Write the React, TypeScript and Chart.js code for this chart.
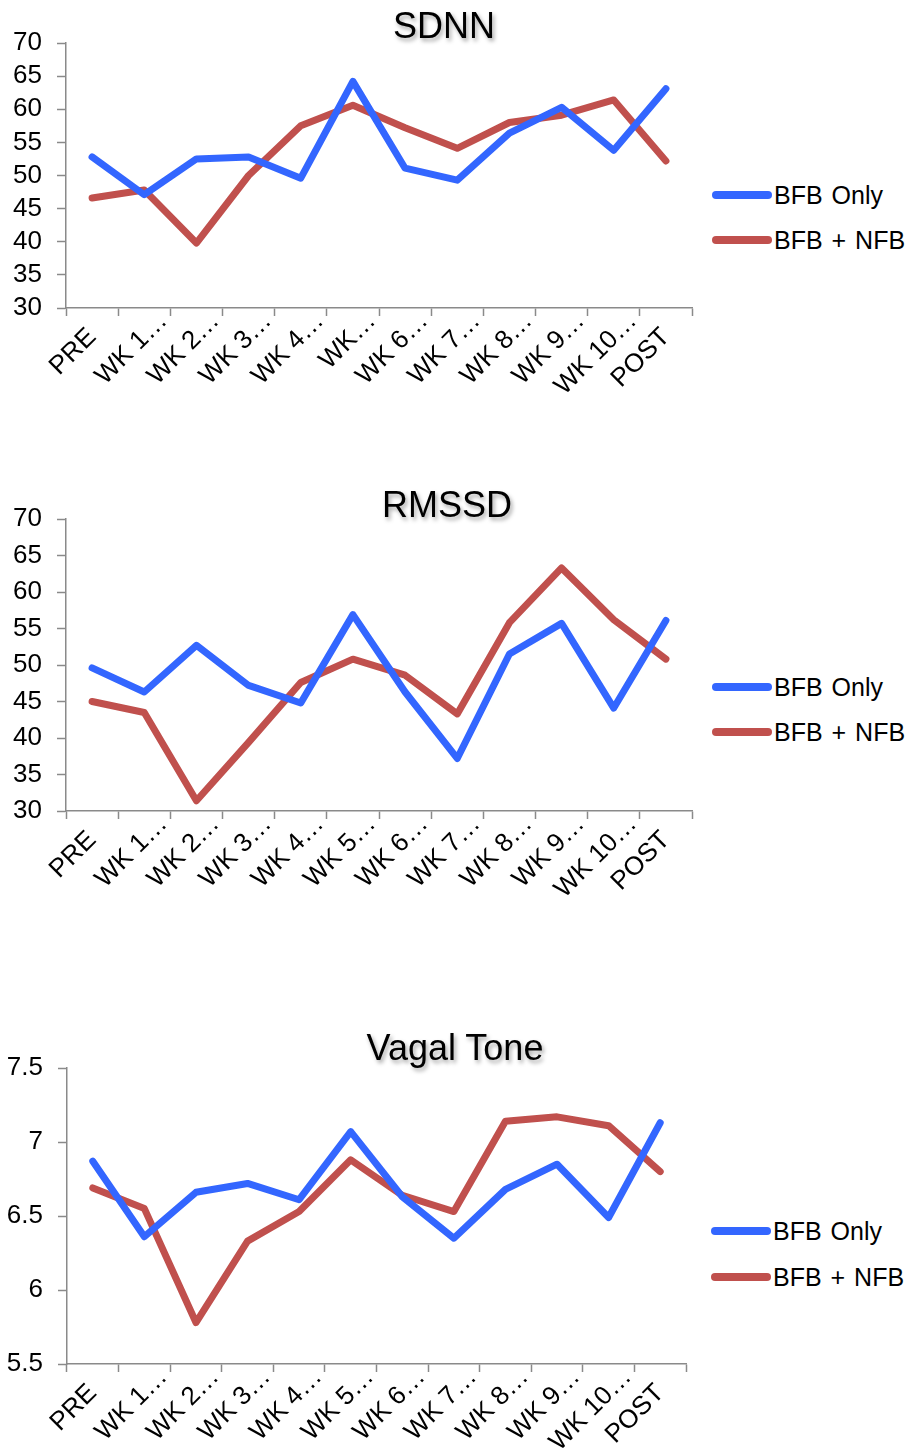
import React, { useEffect, useRef } from "react";
import { Chart, registerables } from "chart.js";

Chart.register(...registerables);

const FONT = "'Liberation Sans', Arial, sans-serif";
const BLUE = "#3366FF";
const RED = "#C0504D";
const AXIS = "#8a8a8a";
const X_FONT_SIZE = 26;

const seriesNames = ["BFB Only", "BFB + NFB"];

const sdnnLabels = ["PRE", "WK 1…", "WK 2…", "WK 3…", "WK 4…", "WK…", "WK 6…", "WK 7…", "WK 8…", "WK 9…", "WK 10…", "POST"];
const sdnnBfbOnly = [52.8, 47.1, 52.5, 52.8, 49.6, 64.2, 51.1, 49.3, 56.4, 60.3, 53.8, 63.1];
const sdnnBfbNfb = [46.6, 47.8, 39.8, 50.0, 57.5, 60.6, 57.2, 54.1, 58.0, 59.1, 61.4, 52.2];
const sdnnTicks = { min: 30, max: 70, step: 5 };

const rmssdLabels = ["PRE", "WK 1…", "WK 2…", "WK 3…", "WK 4…", "WK 5…", "WK 6…", "WK 7…", "WK 8…", "WK 9…", "WK 10…", "POST"];
const rmssdBfbOnly = [49.6, 46.3, 52.7, 47.2, 44.8, 56.9, 46.3, 37.2, 51.5, 55.7, 44.1, 56.1];
const rmssdBfbNfb = [45.0, 43.5, 31.4, 39.4, 47.6, 50.8, 48.6, 43.3, 55.8, 63.3, 56.2, 50.8];
const rmssdTicks = { min: 30, max: 70, step: 5 };

const vagalLabels = ["PRE", "WK 1…", "WK 2…", "WK 3…", "WK 4…", "WK 5…", "WK 6…", "WK 7…", "WK 8…", "WK 9…", "WK 10…", "POST"];
const vagalBfbOnly = [6.87, 6.36, 6.66, 6.72, 6.61, 7.07, 6.63, 6.35, 6.68, 6.85, 6.49, 7.13];
const vagalBfbNfb = [6.69, 6.55, 5.78, 6.33, 6.53, 6.88, 6.64, 6.53, 7.14, 7.17, 7.11, 6.80];
const vagalTicks = { min: 5.5, max: 7.5, step: 0.5 };

type Spec = {
  title: string;
  labels: string[];
  blue: number[];
  red: number[];
  ticks: { min: number; max: number; step: number };
  top: number;
  height: number;
  areaTop: number;
  areaBottom: number;
  areaLeft: number;
  areaRight: number;
  titleCenter: number;
  titleBaseline: number;
  legendLeft: number;
  legendY: number[];
};

const specs: Spec[] = [
  {
    title: "SDNN", labels: sdnnLabels, blue: sdnnBfbOnly, red: sdnnBfbNfb, ticks: sdnnTicks,
    top: 0, height: 440, areaTop: 43, areaBottom: 308, areaLeft: 66, areaRight: 692,
    titleCenter: 444, titleBaseline: 38, legendLeft: 712, legendY: [195, 240],
  },
  {
    title: "RMSSD", labels: rmssdLabels, blue: rmssdBfbOnly, red: rmssdBfbNfb, ticks: rmssdTicks,
    top: 460, height: 460, areaTop: 519, areaBottom: 811, areaLeft: 66, areaRight: 692,
    titleCenter: 447, titleBaseline: 517, legendLeft: 712, legendY: [687, 732],
  },
  {
    title: "Vagal Tone", labels: vagalLabels, blue: vagalBfbOnly, red: vagalBfbNfb, ticks: vagalTicks,
    top: 1000, height: 450, areaTop: 1068, areaBottom: 1364, areaLeft: 67, areaRight: 686,
    titleCenter: 455, titleBaseline: 1060, legendLeft: 711, legendY: [1231, 1277],
  },
];

const CANVAS_W = 700;

// Draws the rotated category labels; truncated (…) labels sit a little further along the text direction.
const rotatedLabelsPlugin = {
  id: "rotatedLabels",
  afterDraw(chart: any) {
    const xs = chart.scales.x;
    const labels: string[] = chart.data.labels;
    const ctx = chart.ctx;
    const lineHeight = X_FONT_SIZE * 1.2;
    ctx.save();
    ctx.font = `${X_FONT_SIZE}px ${FONT}`;
    ctx.fillStyle = "#000";
    ctx.textAlign = "right";
    ctx.textBaseline = "middle";
    labels.forEach((label, i) => {
      const truncated = label.endsWith("…");
      const sx = truncated ? 19 : 0;
      const sy = truncated ? -16 : 0;
      const px = xs.getPixelForTick(i) - (lineHeight / 2) * Math.SQRT1_2 + sx;
      const py = xs.top + 14 + sy;
      ctx.save();
      ctx.translate(px, py);
      ctx.rotate(-Math.PI / 4);
      ctx.fillText(label, 0, lineHeight / 2);
      ctx.restore();
    });
    ctx.restore();
  },
};

function LineChart({ spec }: { spec: Spec }) {
  const ref = useRef<HTMLCanvasElement | null>(null);
  useEffect(() => {
    if (!ref.current) return;
    const xHeight = spec.top + spec.height - spec.areaBottom;
    const chart = new Chart(ref.current, {
      type: "line",
      data: {
        labels: spec.labels,
        datasets: [
          {
            label: seriesNames[0], data: spec.blue, borderColor: BLUE, backgroundColor: BLUE,
            borderWidth: 7, pointRadius: 0, tension: 0, borderJoinStyle: "round", borderCapStyle: "round",
          },
          {
            label: seriesNames[1], data: spec.red, borderColor: RED, backgroundColor: RED,
            borderWidth: 7, pointRadius: 0, tension: 0, borderJoinStyle: "round", borderCapStyle: "round",
          },
        ],
      },
      options: {
        responsive: false,
        animation: false,
        events: [],
        layout: {
          padding: { top: spec.areaTop - spec.top, left: 0, right: CANVAS_W - spec.areaRight, bottom: 0 },
        },
        plugins: { legend: { display: false }, title: { display: false }, tooltip: { enabled: false } },
        scales: {
          x: {
            type: "category",
            offset: true,
            grid: { display: true, drawOnChartArea: false, drawTicks: true, tickLength: 8, tickWidth: 1.5, tickColor: AXIS, offset: true },
            border: { display: true, color: AXIS, width: 1.5 },
            ticks: { display: false, autoSkip: false },
            afterFit: (s: any) => { s.height = xHeight; s.paddingLeft = 0; s.paddingRight = 0; },
          },
          y: {
            type: "linear",
            min: spec.ticks.min,
            max: spec.ticks.max,
            grid: { display: true, drawOnChartArea: false, drawTicks: true, tickLength: 9, tickWidth: 1.5, tickColor: AXIS },
            border: { display: true, color: AXIS, width: 1.5 },
            ticks: {
              stepSize: spec.ticks.step, padding: 15, color: "#000", autoSkip: false,
              font: { family: FONT, size: 26 },
              callback: (v: any) => String(v),
            },
            afterFit: (s: any) => { s.width = spec.areaLeft; s.paddingTop = 0; s.paddingBottom = 0; },
          },
        },
      },
      plugins: [rotatedLabelsPlugin],
    });
    return () => chart.destroy();
  }, [spec]);

  const titleSize = 36;
  return (
    <>
      <canvas
        ref={ref}
        width={CANVAS_W}
        height={spec.height}
        style={{ position: "absolute", left: 0, top: spec.top, width: CANVAS_W, height: spec.height }}
      />
      <div
        style={{
          position: "absolute", left: spec.titleCenter - 200, width: 400, top: spec.titleBaseline - 30,
          textAlign: "center", fontFamily: FONT, fontSize: titleSize, lineHeight: `${titleSize}px`, color: "#000",
          textShadow: "2px 3px 4px rgba(0,0,0,0.35)", whiteSpace: "nowrap",
        }}
      >
        {spec.title}
      </div>
      {seriesNames.map((name, i) => (
        <div
          key={name}
          style={{
            position: "absolute", left: spec.legendLeft, top: spec.legendY[i] - 13, height: 26,
            display: "flex", alignItems: "center", whiteSpace: "nowrap",
          }}
        >
          <span style={{ display: "inline-block", width: 60, height: 8, borderRadius: 4, background: i === 0 ? BLUE : RED }} />
          <span style={{ fontFamily: FONT, fontSize: 25, lineHeight: "26px", wordSpacing: 2, color: "#000", marginLeft: 2 }}>{name}</span>
        </div>
      ))}
    </>
  );
}

export default function App() {
  return (
    <div style={{ position: "absolute", left: 0, top: 0, width: 912, height: 1450, background: "#fff", overflow: "hidden" }}>
      {specs.map((s) => (
        <LineChart key={s.title} spec={s} />
      ))}
    </div>
  );
}
